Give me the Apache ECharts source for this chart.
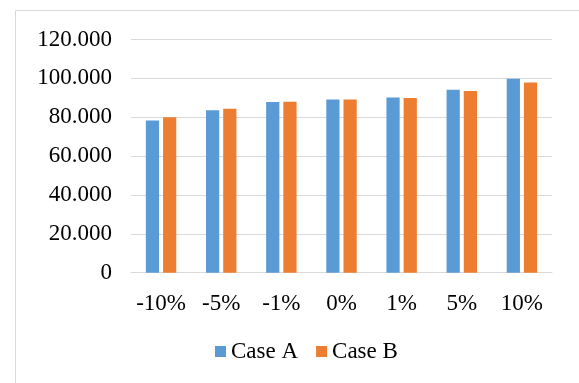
<!DOCTYPE html>
<html>
<head>
<meta charset="utf-8">
<script src="https://cdn.jsdelivr.net/npm/echarts@6/dist/echarts.min.js"></script>
<style>
html,body{margin:0;padding:0;background:#fff;}
#c{width:579px;height:383px;}
</style>
</head>
<body>
<div id="c"></div>
<script>
const categories = ['-10%', '-5%', '-1%', '0%', '1%', '5%', '10%'];
const caseA = [78.3, 83.6, 87.9, 89.1, 90.1, 94.2, 99.8];
const caseB = [80.0, 84.4, 88.0, 89.1, 89.9, 93.5, 97.9];
const seriesNames = ['Case A', 'Case B'];

const font = '"Liberation Serif", "Times New Roman", serif';
const fs = 23;
const chart = echarts.init(document.getElementById('c'), null, {renderer: 'canvas'});
chart.setOption({
  animation: false,
  backgroundColor: '#fff',
  textStyle: {fontFamily: font},
  graphic: [{
    type: 'rect',
    shape: {x: 15.5, y: 10.5, width: 800, height: 600},
    style: {fill: 'none', stroke: '#d9d9d9', lineWidth: 1},
    silent: true
  }],
  grid: {left: 131, right: 27, top: 39.5, bottom: 110.3},
  legend: {
    data: seriesNames,
    left: 215,
    top: 340,
    padding: 0,
    itemWidth: 11,
    itemHeight: 11,
    itemGap: 18,
    icon: 'rect',
    textStyle: {fontFamily: font, fontSize: fs, color: '#000'}
  },
  xAxis: {
    type: 'category',
    data: categories,
    axisLine: {lineStyle: {color: '#d9d9d9', width: 1}},
    axisTick: {show: false},
    axisLabel: {fontFamily: font, fontSize: fs, color: '#000', margin: 20, interval: 0}
  },
  yAxis: {
    type: 'value',
    min: 0,
    max: 120,
    interval: 20,
    axisLine: {show: false},
    axisTick: {show: false},
    splitLine: {lineStyle: {color: '#d9d9d9', width: 1}},
    axisLabel: {
      fontFamily: font, fontSize: fs, color: '#000', margin: 19,
      formatter: v => v === 0 ? '0' : v.toFixed(3)
    }
  },
  series: [
    {name: seriesNames[0], type: 'bar', data: caseA, barWidth: '22%', barGap: '30%',
     itemStyle: {color: '#5B9BD5'}},
    {name: seriesNames[1], type: 'bar', data: caseB, barWidth: '22%', barGap: '30%',
     itemStyle: {color: '#ED7D31'}}
  ]
});
</script>
</body>
</html>
